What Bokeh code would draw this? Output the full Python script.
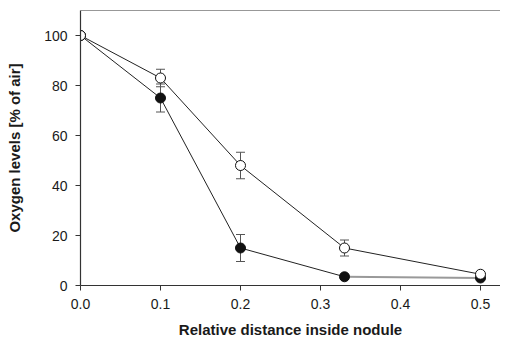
from bokeh.plotting import figure
from bokeh.models import ColumnDataSource, Whisker, Span, Range1d, NumeralTickFormatter
from bokeh.embed import file_html
from bokeh.resources import INLINE

distance = [0.0, 0.1, 0.2, 0.33, 0.5]
open_vals = [100, 83, 48, 15, 4.5]
open_err = [0, 3.5, 5.3, 3.2, 0]
filled_vals = [100, 75, 15, 3.5, 3]
filled_err = [0, 5.6, 5.4, 1, 0]

x_ticks = [0.0, 0.1, 0.2, 0.3, 0.4, 0.5]
y_ticks = [0, 20, 40, 60, 80, 100]

FONT = "Liberation Sans"

p = figure(width=500, height=341, output_backend="svg", toolbar_location=None,
           x_range=Range1d(0, 0.525), y_range=Range1d(0, 110),
           min_border_left=80, min_border_right=0, min_border_top=10, min_border_bottom=56)
p.outline_line_color = None
p.grid.grid_line_color = None
p.background_fill_color = "white"

# top frame line
p.add_layout(Span(location=110, dimension="width", line_color="#333333", line_width=1.2))

# error bars
def whiskers(vals, err):
    src = ColumnDataSource(dict(x=[d for d, e in zip(distance, err) if e > 0],
                                lo=[v - e for v, e in zip(vals, err) if e > 0],
                                hi=[v + e for v, e in zip(vals, err) if e > 0]))
    w = Whisker(source=src, base="x", upper="hi", lower="lo", line_color="#555555", line_width=1)
    w.upper_head.size = 9
    w.lower_head.size = 9
    w.upper_head.line_color = "#555555"
    w.lower_head.line_color = "#555555"
    p.add_layout(w)

whiskers(open_vals, open_err)
whiskers(filled_vals, filled_err)

# lines
p.line(distance, open_vals, line_color="#222222", line_width=1)
p.line(distance[:4], filled_vals[:4], line_color="#222222", line_width=1)
p.line(distance[3:], filled_vals[3:], line_color="#999999", line_width=2)

# markers
p.scatter(distance, filled_vals, size=10, fill_color="#111111", line_color="#111111")
p.scatter(distance, open_vals, size=10, fill_color="white", line_color="#111111", line_width=1)

for ax in (p.xaxis[0], p.yaxis[0]):
    ax.axis_line_color = "#333333"
    ax.axis_line_width = 1.2
    ax.major_tick_line_color = "#333333"
    ax.major_tick_out = 5
    ax.major_tick_in = 0
    ax.minor_tick_line_color = None
    ax.major_label_text_font = FONT
    ax.major_label_text_font_size = "14px"
    ax.major_label_text_color = "#1a1a1a"
    ax.axis_label_text_font = FONT
    ax.axis_label_text_font_style = "bold"
    ax.axis_label_text_font_size = "15px"
    ax.axis_label_text_color = "#1a1a1a"

p.xaxis.ticker = x_ticks
p.yaxis.ticker = y_ticks
p.xaxis.formatter = NumeralTickFormatter(format="0.0")
p.xaxis.axis_label = "Relative distance inside nodule"
p.yaxis.axis_label = "Oxygen levels [% of air]"
p.xaxis.major_label_standoff = 8
p.yaxis.major_label_standoff = 8
p.xaxis.axis_label_standoff = 9
p.yaxis.axis_label_standoff = 18

open("out.html", "w").write(file_html(p, INLINE))
